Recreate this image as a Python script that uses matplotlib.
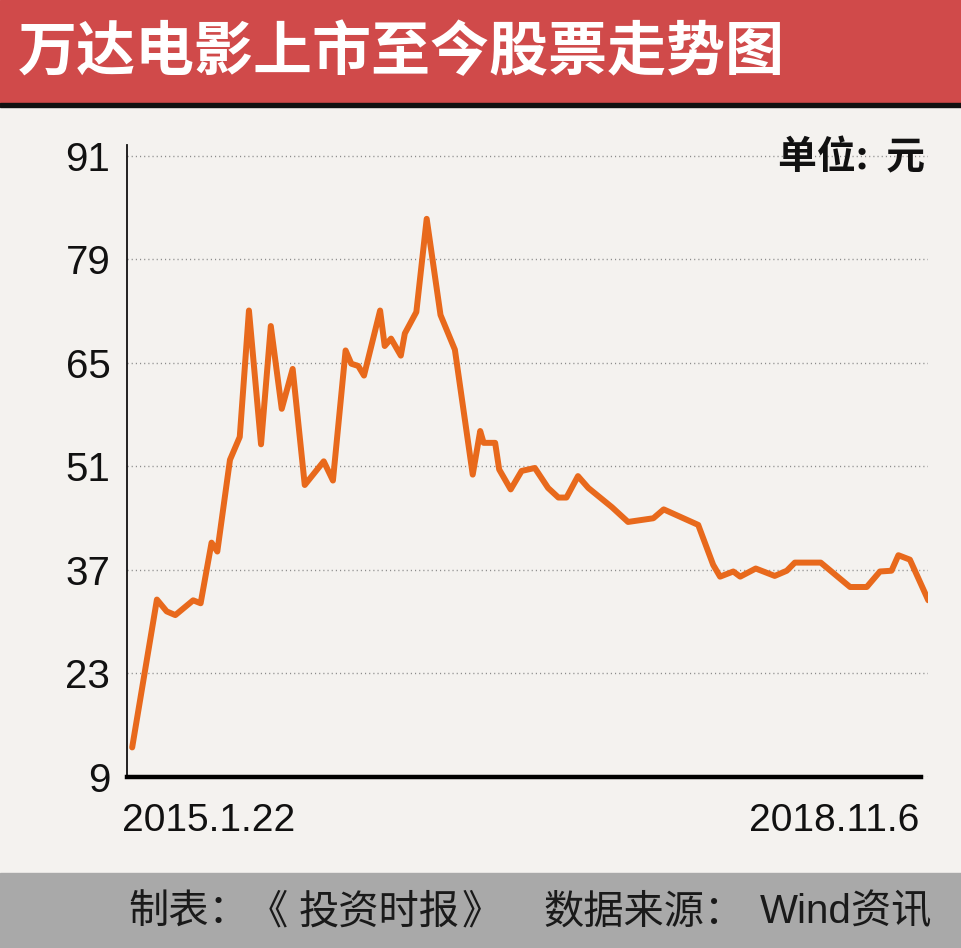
import matplotlib
matplotlib.use("Agg")
import matplotlib.pyplot as plt
import matplotlib.transforms as mtransforms
import matplotlib.dates as mdates
from matplotlib.patches import Rectangle
import pandas as pd
import numpy as np

# ---------------- data ----------------
start_date = "2015-01-22"
day_offsets = [0, 43, 60, 75, 106, 119, 138, 148, 170, 187,
               203, 224, 241, 260, 279, 300, 333, 349, 371, 381,
               393, 403, 431, 439, 450, 467, 474, 494, 512, 536,
               561, 592, 605, 611, 631, 638, 658, 677, 700, 723,
               741, 755, 775, 793, 834, 862, 906, 924, 984, 1010,
               1022, 1045, 1057, 1084, 1117, 1138, 1152, 1197, 1248, 1277,
               1300, 1320, 1332, 1352, 1384]
prices = [13.0, 33.0, 31.4, 30.9, 32.9, 32.5, 40.7, 39.5, 51.9, 55.0,
          72.1, 54.0, 70.0, 58.8, 64.2, 48.5, 51.7, 49.1, 66.7, 64.9,
          64.6, 63.3, 72.1, 67.3, 68.3, 66.0, 69.0, 71.9, 84.5, 71.5,
          66.8, 49.9, 55.8, 54.2, 54.2, 50.6, 47.9, 50.4, 50.8, 48.1,
          46.8, 46.8, 49.7, 48.1, 45.5, 43.5, 44.0, 45.2, 43.1, 37.7,
          36.1, 36.8, 36.1, 37.2, 36.2, 36.9, 38.0, 38.0, 34.7, 34.7,
          36.8, 36.9, 39.0, 38.4, 32.9]
ytick_pos = [9, 23, 37, 51, 65, 79, 93]
ytick_labels = ["9", "23", "37", "51", "65", "79", "91"]
xtick_labels = ["2015.1.22", "2018.11.6"]
title = "万达电影上市至今股票走势图"
unit_text = "单位:  元"
footer_parts = ["制表：", "《", "投资时报", "》", "数据来源：", "Wind资讯"]

# ---------------- style ----------------
BG = "#f4f2ef"
RED = "#d04a4a"
GRAY = "#a9a9a9"
ORANGE = "#e8691c"
CJK = ["Noto Sans CJK SC", "DejaVu Sans"]
NUM = ["Liberation Sans", "DejaVu Sans"]
MIX = ["Liberation Sans", "Noto Sans CJK SC", "DejaVu Sans"]

d0 = pd.Timestamp(start_date)
dates = d0 + pd.to_timedelta(day_offsets, unit="D")
xnum = mdates.date2num(dates.to_pydatetime())
n0 = mdates.date2num(d0.to_pydatetime())

W, H = 962, 948
fig = plt.figure(figsize=(W / 100, H / 100), dpi=100, facecolor=BG)

# header band
fig.patches.append(Rectangle((0, (H - 103) / H), 1, 103 / H,
                             transform=fig.transFigure, color=RED, zorder=0))
fig.patches.append(Rectangle((0, (H - 107) / H), 1, 4 / H,
                             transform=fig.transFigure, color="#111111", zorder=0))
# footer band
fig.patches.append(Rectangle((0, 0), 1, 75 / H,
                             transform=fig.transFigure, color=GRAY, zorder=0))

fig.text(18 / W, 1 - 53 / H, title, color="white", fontsize=42.5,
         fontweight="heavy", family=CJK, ha="left", va="center")

# footer pieces
fy = 36 / H
fkw = dict(color="#1a1a1a", fontsize=29, va="center")
fig.text(128 / W, fy, footer_parts[0], family=CJK, ha="left", **fkw)
fig.text(248 / W, fy, footer_parts[1], family=CJK, ha="left", **fkw)
fig.text(299 / W, fy, footer_parts[2], family=CJK, ha="left", **fkw)
fig.text(462 / W, fy, footer_parts[3], family=CJK, ha="left", **fkw)
fig.text(543 / W, fy, footer_parts[4], family=CJK, ha="left", **fkw)
fig.text(760 / W, fy, footer_parts[5], family=MIX, ha="left", **fkw)

ax = fig.add_axes([127 / W, (H - 777) / H, (928.3 - 127) / W, (777 - 145) / H])
ax.set_facecolor(BG)
ax.plot(xnum, prices, color=ORANGE, lw=4.3, solid_joinstyle="round",
        solid_capstyle="round", zorder=3)

ax.set_ylim(9, 93 + 11 / 7.393)
ax.set_xlim(n0 - 9, n0 + 1384)

ax.set_yticks(ytick_pos)
ax.set_yticklabels(ytick_labels, family=NUM, fontsize=29, color="#111111")
ax.tick_params(axis="y", length=0, pad=12)
ax.yaxis.grid(True, linestyle=(0, (0.8, 2.2)), color="#8a8a8a", lw=1.0)
ax.set_axisbelow(True)

ax.set_xticks([xnum[0], xnum[-1]])
ax.set_xticklabels(xtick_labels, family=NUM, fontsize=28, color="#111111")
ax.tick_params(axis="x", length=0, pad=19)
labs = ax.get_xticklabels()
labs[0].set_ha("left")
labs[0].set_transform(labs[0].get_transform() +
                      mtransforms.ScaledTranslation(-10 / 100, 0, fig.dpi_scale_trans))
labs[1].set_ha("right")
labs[1].set_transform(labs[1].get_transform() +
                      mtransforms.ScaledTranslation(-9 / 100, 0, fig.dpi_scale_trans))

for s in ["top", "right"]:
    ax.spines[s].set_visible(False)
ax.spines["left"].set_linewidth(1.3)
ax.spines["left"].set_color("#111111")
ax.spines["bottom"].set_linewidth(3.2)
ax.spines["bottom"].set_color("#000000")
ax.spines["bottom"].set_bounds(n0 - 9, n0 + 1371)

ax.text(1.0 - 3 / 801, 1 + 7 / 632, unit_text, transform=ax.transAxes,
        ha="right", va="top", fontsize=28, fontweight="bold", family=CJK,
        color="#111111")

fig.savefig("out.png", dpi=100, facecolor=BG)
